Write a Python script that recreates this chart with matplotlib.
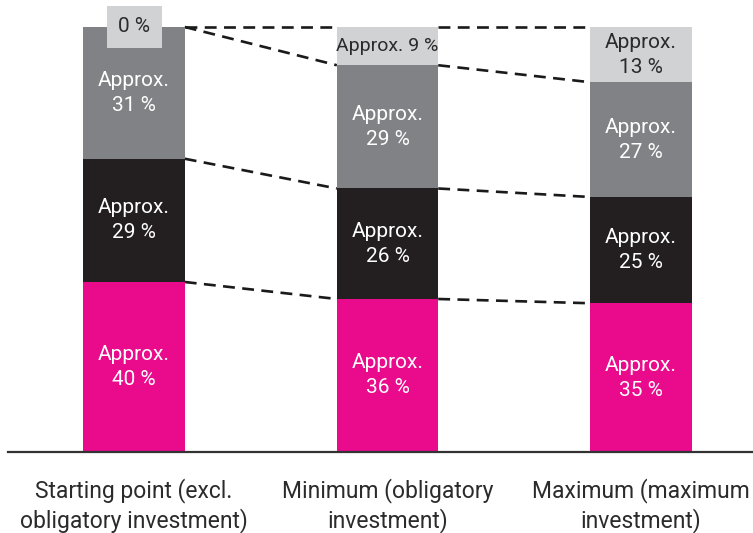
import matplotlib.pyplot as plt
import numpy as np

# Data (share of total, %)
categories = ['Starting point (excl.\nobligatory investment)',
              'Minimum (obligatory\ninvestment)',
              'Maximum (maximum\ninvestment)']
seg_magenta = [40, 36, 35]
seg_black = [29, 26, 25]
seg_gray = [31, 29, 27]
seg_light = [0, 9, 13]

labels_magenta = ['Approx.\n40 %', 'Approx.\n36 %', 'Approx.\n35 %']
labels_black = ['Approx.\n29 %', 'Approx.\n26 %', 'Approx.\n25 %']
labels_gray = ['Approx.\n31 %', 'Approx.\n29 %', 'Approx.\n27 %']
labels_light = ['0 %', 'Approx. 9 %', 'Approx.\n13 %']

colors = ['#ea0a8c', '#231f20', '#818285', '#d1d2d4']
text_colors = ['white', 'white', 'white', '#2b2b2b']

plt.rcParams['font.family'] = ['Roboto', 'DejaVu Sans']

fig = plt.figure(figsize=(7.53, 5.33), dpi=100)
ax = fig.add_axes([0, 0, 1, 1])
ax.set_xlim(-0.529, 2.442)
ax.set_ylim(-19.06, 106.35)
ax.axis('off')

x = np.arange(len(categories))
width = 0.40
segments = [seg_magenta, seg_black, seg_gray, seg_light]
seg_labels = [labels_magenta, labels_black, labels_gray, labels_light]

bottom = np.zeros(len(categories))
bounds = []
for vals, col, labs, tcol in zip(segments, colors, seg_labels, text_colors):
    vals = np.array(vals, dtype=float)
    ax.bar(x, vals, width, bottom=bottom, color=col, edgecolor='none', zorder=2)
    for i in range(len(x)):
        fs = 14 if labs[i].startswith('Approx. ') else 15
        if vals[i] > 0:
            ax.text(x[i], bottom[i] + vals[i] / 2, labs[i], ha='center', va='center',
                    color=tcol, fontsize=fs, linespacing=1.4, zorder=3)
        else:
            # zero segment: label in a small box on top of the bar
            ax.text(x[i], bottom[i], labs[i], ha='center', va='center',
                    color=tcol, fontsize=fs, zorder=4,
                    bbox=dict(boxstyle='square,pad=0.55', facecolor=col, edgecolor='none'))
    bottom = bottom + vals
    bounds.append(bottom.copy())

# dashed connectors between adjacent bars
for b in bounds:
    for i in range(len(x) - 1):
        ln, = ax.plot([x[i] + width / 2, x[i + 1] - width / 2], [b[i], b[i + 1]],
                      color='#1a1a1a', lw=1.9, zorder=1)
        ln.set_dashes([4.5, 2.8])

# baseline
ax.plot([-0.497, 2.442], [0, 0], color='#333333', lw=1.6, zorder=3)

# category labels
for i, c in enumerate(categories):
    ax.text(x[i], -12.6, c, ha='center', va='center', fontsize=16.5,
            color='#2b2b2b', linespacing=1.3)

plt.savefig('out.png', dpi=100, facecolor='white')
